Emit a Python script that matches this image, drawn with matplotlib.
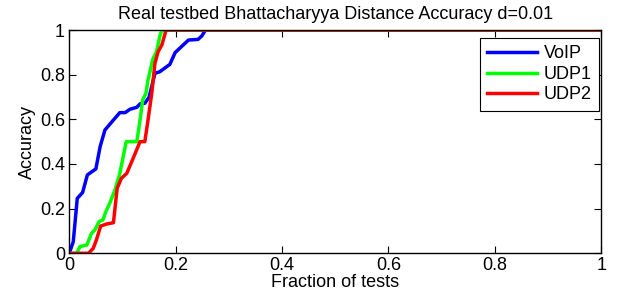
import matplotlib
matplotlib.use('Agg')
import matplotlib.pyplot as plt

plt.rcParams['font.family'] = ['Liberation Sans', 'DejaVu Sans']

voip_x = [0, 0.0075, 0.015, 0.025, 0.034, 0.050, 0.058, 0.067, 0.083, 0.095, 0.105, 0.114,
          0.127, 0.133, 0.142, 0.150, 0.161, 0.170, 0.189, 0.199, 0.224, 0.242, 0.249, 0.256, 1.0]
voip_y = [0, 0.052, 0.246, 0.272, 0.351, 0.378, 0.478, 0.552, 0.597, 0.63, 0.63, 0.645,
          0.654, 0.669, 0.672, 0.699, 0.806, 0.813, 0.846, 0.899, 0.955, 0.958, 0.973, 1.0, 1.0]

udp1_x = [0, 0.014, 0.020, 0.033, 0.042, 0.048, 0.056, 0.063, 0.069, 0.076, 0.086, 0.095,
          0.107, 0.127, 0.133, 0.138, 0.144, 0.148, 0.157, 0.164, 0.170, 0.174, 1.0]
udp1_y = [0, 0, 0.03, 0.037, 0.09, 0.104, 0.142, 0.149, 0.187, 0.224, 0.284, 0.358,
          0.5, 0.5, 0.597, 0.687, 0.716, 0.776, 0.869, 0.903, 0.970, 1.0, 1.0]

udp2_x = [0, 0.036, 0.045, 0.051, 0.059, 0.070, 0.083, 0.090, 0.098, 0.108, 0.120, 0.133,
          0.142, 0.148, 0.155, 0.161, 0.167, 0.174, 0.182, 1.0]
udp2_y = [0, 0, 0.022, 0.06, 0.122, 0.131, 0.137, 0.291, 0.336, 0.358, 0.425, 0.5,
          0.5, 0.597, 0.716, 0.851, 0.903, 0.933, 1.0, 1.0]

ticks = [0, 0.2, 0.4, 0.6, 0.8, 1]
tick_labels = ['0', '0.2', '0.4', '0.6', '0.8', '1']

fig = plt.figure(figsize=(6.18, 3.01), dpi=100)
ax = fig.add_axes([0.1121, 0.1585, 0.8609, 0.7418])

ax.plot(voip_x, voip_y, color='#0000ff', lw=2.5, label='VoIP')
ax.plot(udp1_x, udp1_y, color='#00ff00', lw=2.5, label='UDP1')
ax.plot(udp2_x, udp2_y, color='#ff0000', lw=2.5, label='UDP2')

ax.set_xlim(0, 1)
ax.set_ylim(0, 1)
ax.set_xticks(ticks)
ax.set_xticklabels(tick_labels)
ax.set_yticks(ticks)
ax.set_yticklabels(tick_labels)
ax.tick_params(direction='in', top=True, right=True, labelsize=13, length=5, pad=3)
for s in ax.spines.values():
    s.set_linewidth(1.0)

ax.set_xlabel('Fraction of tests', fontsize=13, labelpad=0)
ax.set_ylabel('Accuracy', fontsize=13, labelpad=3)
ax.set_title('Real testbed Bhattacharyya Distance Accuracy d=0.01', fontsize=13, pad=8)

leg = ax.legend(loc='upper right', bbox_to_anchor=(0.9957, 0.964), fontsize=13, frameon=True,
                fancybox=False, edgecolor='black', framealpha=1, handlelength=2.8,
                handletextpad=0.35, labelspacing=0.2, borderpad=0.4, borderaxespad=0)
leg.get_frame().set_linewidth(0.8)

plt.savefig('out.png', dpi=100)
